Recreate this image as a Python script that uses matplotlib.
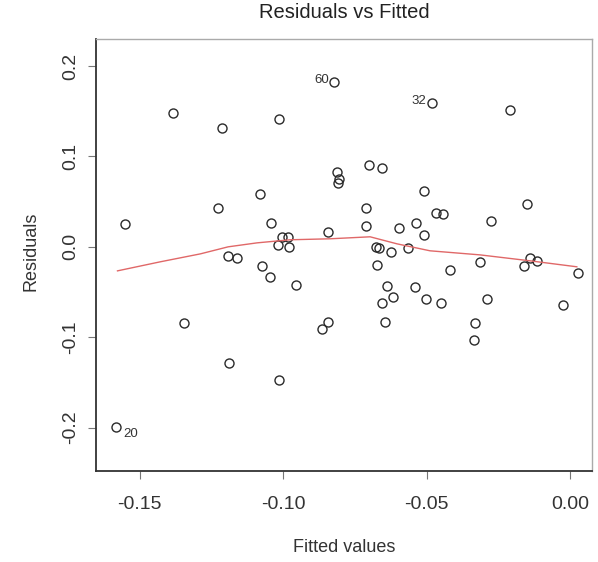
import numpy as np
import matplotlib
matplotlib.use('Agg')
from matplotlib import pyplot as plt

plt.rcParams['font.family'] = ['Liberation Sans', 'DejaVu Sans']

# fitted values and residuals
fitted = [-0.1582, -0.1551, -0.1383, -0.1345, -0.1226, -0.1213, -0.1188, -0.1192,
          -0.1160, -0.1080, -0.1073, -0.1045, -0.1042, -0.1017, -0.1014, -0.1014,
          -0.1003, -0.0983, -0.0979, -0.0955, -0.0864, -0.0843, -0.0843, -0.0822,
          -0.0812, -0.0805, -0.0808, -0.0711, -0.0700, -0.0655, -0.0711, -0.0676,
          -0.0666, -0.0624, -0.0672, -0.0638, -0.0617, -0.0655, -0.0645, -0.0596,
          -0.0564, -0.0537, -0.0509, -0.0509, -0.0540, -0.0502, -0.0481, -0.0467,
          -0.0443, -0.0449, -0.0418, -0.0331, -0.0334, -0.0314, -0.0289, -0.0275,
          -0.0209, -0.0150, -0.0160, -0.0139, -0.0115, -0.0024, 0.0028]
resid = [-0.1993, 0.0255, 0.1484, -0.0842, 0.0432, 0.1318, -0.1285, -0.0100,
         -0.0122, 0.0587, -0.0210, -0.0332, 0.0266, 0.0022, 0.1417, -0.1473,
         0.0111, 0.0111, 0.0000, -0.0421, -0.0908, -0.0831, 0.0166, 0.1827,
         0.0831, 0.0753, 0.0709, 0.0432, 0.0908, 0.0875, 0.0233, 0.0000,
         -0.0011, -0.0055, -0.0199, -0.0432, -0.0554, -0.0620, -0.0831, 0.0210,
         -0.0011, 0.0266, 0.0133, 0.0620, -0.0443, -0.0576, 0.1595, 0.0377,
         0.0365, -0.0620, -0.0255, -0.0842, -0.1030, -0.0166, -0.0576, 0.0288,
         0.1517, 0.0476, -0.0210, -0.0122, -0.0155, -0.0642, -0.0288]

# smoother line (red)
smooth_x = [-0.1578, -0.1429, -0.1289, -0.1192, -0.1091, -0.0976, -0.0836,
            -0.0697, -0.0603, -0.0488, -0.0314, -0.0139, 0.0024]
smooth_y = [-0.0266, -0.0166, -0.0078, 0.0000, 0.0044, 0.0078, 0.0089,
            0.0111, 0.0033, -0.0044, -0.0089, -0.0155, -0.0221]

# labelled observations: (label, index into fitted/resid)
labels = [('60', 23), ('32', 46), ('20', 0)]

fig = plt.figure(figsize=(5.98, 5.62), dpi=100)
ax = fig.add_axes([0.161, 0.162, 0.829, 0.769])

ax.plot(fitted, resid, 'o', mfc='none', mec='#2a2a2a', ms=6.5, mew=1.0)
ax.plot(smooth_x, smooth_y, color='#e06868', lw=1.0)

for lab, i in labels:
    if lab == '20':
        ax.annotate(lab, (fitted[i], resid[i]), xytext=(5, -5), textcoords='offset points',
                    fontsize=9.5, color='#333333', ha='left', va='center')
    else:
        ax.annotate(lab, (fitted[i], resid[i]), xytext=(-4, 1), textcoords='offset points',
                    fontsize=9.5, color='#333333', ha='right', va='center')

ax.set_xlim(-0.1652, 0.0077)
ax.set_ylim(-0.2481, 0.2303)
ax.set_xticks([-0.15, -0.10, -0.05, 0.00])
ax.set_xticklabels(['-0.15', '-0.10', '-0.05', '0.00'], fontsize=14, color='#333333')
ax.set_yticks([-0.2, -0.1, 0.0, 0.1, 0.2])
ax.set_yticklabels(['-0.2', '-0.1', '0.0', '0.1', '0.2'], fontsize=14, color='#333333',
                   rotation=90, va='center')
ax.tick_params(direction='out', length=6, width=0.8, color='#777777')
ax.tick_params(axis='x', pad=12)
ax.tick_params(axis='y', pad=6)

for s in ['left', 'bottom']:
    ax.spines[s].set_color('#333333')
    ax.spines[s].set_linewidth(1.3)
for s in ['top', 'right']:
    ax.spines[s].set_color('#aaaaaa')
    ax.spines[s].set_linewidth(1.0)

fig.text(0.575, 0.977, 'Residuals vs Fitted', fontsize=14.5, color='#222222',
         ha='center', va='center')
fig.text(0.575, 0.025, 'Fitted values', fontsize=13, color='#333333',
         ha='center', va='center')
fig.text(0.052, 0.553, 'Residuals', fontsize=13, color='#333333',
         ha='center', va='center', rotation=90)

fig.savefig('out.png', dpi=100)
